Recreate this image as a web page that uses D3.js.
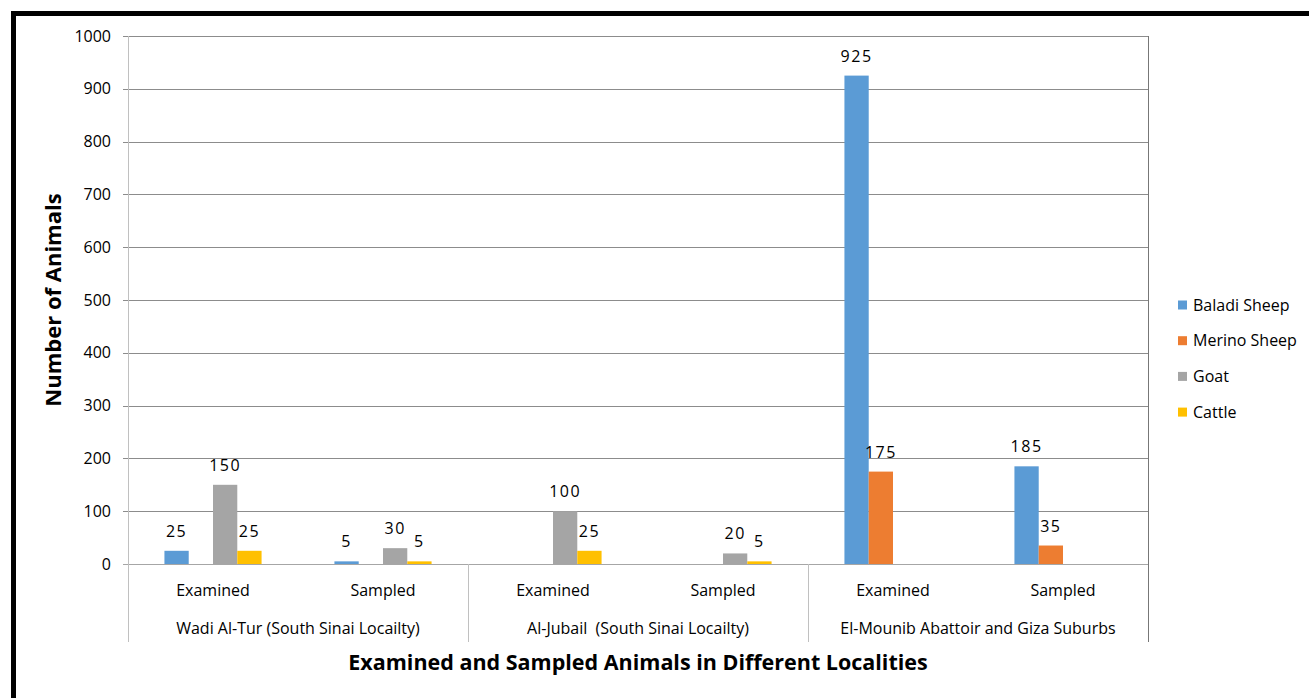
<!DOCTYPE html>
<html>
<head>
<meta charset="utf-8">
<script src="https://cdn.jsdelivr.net/npm/d3@7"></script>
<style>
  body { margin: 0; background: #fff; }
  svg text { font-family: "Open Sans", "Noto Sans", sans-serif; fill: #000; }
</style>
</head>
<body>
<div id="chart"></div>
<script>
const svgWidth = 1309;
const svgHeight = 698;

const groups = ["Wadi Al-Tur (South Sinai Locailty)", "Al-Jubail\u00a0 (South Sinai Locailty)", "El-Mounib Abattoir and Giza Suburbs"];
const subCategories = ["Examined", "Sampled"];
const seriesNames = ["Baladi Sheep", "Merino Sheep", "Goat", "Cattle"];
const seriesColors = ["#5B9BD5", "#ED7D31", "#A5A5A5", "#FFC000"];
// one value per group/subcategory pair, null = no bar
const baladiSheep = [25, 5, null, null, 925, 185];
const merinoSheep = [null, null, null, null, 175, 35];
const goat = [150, 30, 100, 20, null, null];
const cattle = [25, 5, 25, 5, null, null];
const yTicks = [0, 100, 200, 300, 400, 500, 600, 700, 800, 900, 1000];

const plot = { left: 128, right: 1148, top: 36, bottom: 564, catBottom: 642 };

const slots = [];
groups.forEach((g, gi) => subCategories.forEach(s => slots.push({ key: gi + "|" + s, group: g, sub: s })));
const allSeries = [baladiSheep, merinoSheep, goat, cattle];

const svg = d3.select("#chart").append("svg")
    .attr("width", svgWidth)
    .attr("height", svgHeight);

// black frame (top and left edges)
svg.append("rect").attr("x", 11).attr("y", 11).attr("width", svgWidth - 11).attr("height", 5).attr("fill", "#000");
svg.append("rect").attr("x", 11).attr("y", 11).attr("width", 5).attr("height", svgHeight - 11).attr("fill", "#000");

const x0 = d3.scaleBand()
    .domain(slots.map(d => d.key))
    .range([plot.left, plot.right])
    .padding(0);

const x1 = d3.scaleBand()
    .domain(seriesNames)
    .range([0, x0.bandwidth()])
    .paddingInner(0)
    .paddingOuter(1.5);

const y = d3.scaleLinear()
    .domain([0, 1000])
    .range([plot.bottom, plot.top]);

// gridlines
svg.append("g")
    .selectAll("line")
    .data(yTicks)
    .enter()
    .append("line")
    .attr("x1", plot.left - 5)
    .attr("x2", plot.right)
    .attr("y1", d => Math.round(y(d)) + 0.5)
    .attr("y2", d => Math.round(y(d)) + 0.5)
    .attr("stroke", d => d === 0 ? "#a6a6a6" : "#8c8c8c")
    .attr("stroke-width", 1);

// y axis tick labels
const yAxis = svg.append("g")
    .attr("transform", `translate(${plot.left}, 0)`)
    .call(d3.axisLeft(y).tickValues(yTicks).tickFormat(d3.format("d")).tickSize(0).tickPadding(17));
yAxis.select(".domain").remove();
yAxis.selectAll("text")
    .style("font-size", "16px")
    .style("font-family", "'Open Sans', sans-serif")
    .attr("fill", "#000");

// left axis line and category separators
const sepX = [plot.left].concat(groups.map((g, gi) => x0(gi + "|" + subCategories[1]) + x0.bandwidth()));
svg.append("g")
    .selectAll("line")
    .data(sepX)
    .enter()
    .append("line")
    .attr("x1", d => Math.round(d) + 0.5)
    .attr("x2", d => Math.round(d) + 0.5)
    .attr("y1", (d, i) => i === 0 || i === sepX.length - 1 ? plot.top : plot.bottom)
    .attr("y2", plot.catBottom)
    .attr("stroke", (d, i) => i === sepX.length - 1 ? "#777" : "#c0c0c0");

// bars
seriesNames.forEach((name, si) => {
    const rows = slots.map((s, i) => ({ key: s.key, value: allSeries[si][i] })).filter(d => d.value !== null);
    svg.append("g")
        .selectAll("rect")
        .data(rows)
        .enter()
        .append("rect")
        .attr("x", d => x0(d.key) + x1(name))
        .attr("y", d => y(d.value))
        .attr("width", x1.bandwidth())
        .attr("height", d => y(0) - y(d.value))
        .attr("fill", seriesColors[si]);

    svg.append("g")
        .selectAll("text")
        .data(rows)
        .enter()
        .append("text")
        .attr("x", d => x0(d.key) + x1(name) + x1.bandwidth() / 2)
        .attr("y", d => y(d.value) - 14)
        .attr("text-anchor", "middle")
        .style("font-size", "16px")
        .style("letter-spacing", "1.5px")
        .text(d => d.value);
});

// subcategory labels
svg.append("g")
    .selectAll("text")
    .data(slots)
    .enter()
    .append("text")
    .attr("x", d => x0(d.key) + x0.bandwidth() / 2)
    .attr("y", 596)
    .attr("text-anchor", "middle")
    .style("font-size", "16px")
    .text(d => d.sub);

// group labels
svg.append("g")
    .selectAll("text")
    .data(groups)
    .enter()
    .append("text")
    .attr("x", (d, gi) => x0(gi + "|" + subCategories[0]) + x0.bandwidth())
    .attr("y", 634)
    .attr("text-anchor", "middle")
    .style("font-size", "16px")
    .text(d => d);

// axis titles
svg.append("text")
    .attr("x", (plot.left + plot.right) / 2)
    .attr("y", 670)
    .attr("text-anchor", "middle")
    .style("font-size", "21.5px")
    .style("font-weight", "bold")
    .text("Examined and Sampled Animals in Different Localities");

svg.append("text")
    .attr("transform", `translate(61, ${(plot.top + plot.bottom) / 2}) rotate(-90)`)
    .attr("text-anchor", "middle")
    .style("font-size", "22px")
    .style("font-weight", "bold")
    .text("Number of Animals");

// legend
const legend = svg.append("g")
    .selectAll("g")
    .data(seriesNames)
    .enter()
    .append("g")
    .attr("transform", (d, i) => `translate(1178, ${305 + i * 35.7})`);
legend.append("rect")
    .attr("x", 0)
    .attr("y", -4.5)
    .attr("width", 9)
    .attr("height", 9)
    .attr("fill", (d, i) => seriesColors[i]);
legend.append("text")
    .attr("x", 15)
    .attr("y", 5.5)
    .style("font-size", "16px")
    .text(d => d);
</script>
</body>
</html>
